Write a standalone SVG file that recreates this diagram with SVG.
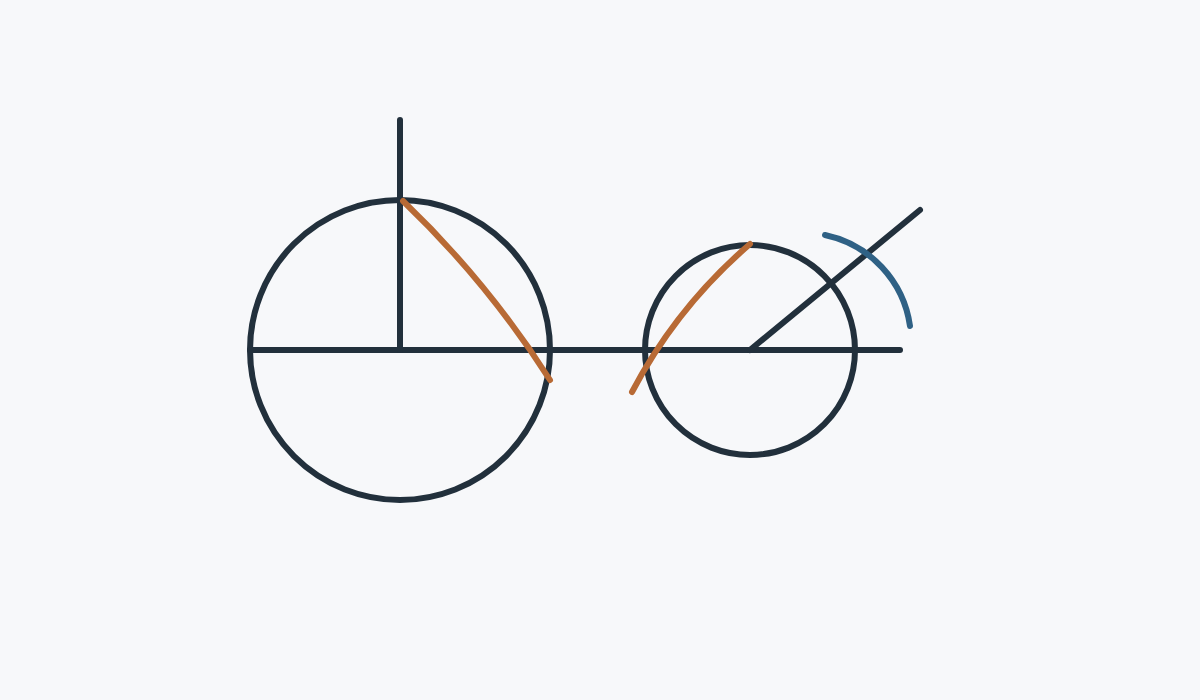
<svg xmlns="http://www.w3.org/2000/svg" width="1200" height="700" viewBox="0 0 1200 700">
<style>
.k{fill:none;stroke:#22303c;stroke-width:6;stroke-linecap:round}
.o{fill:none;stroke:#b86a35;stroke-width:6;stroke-linecap:round}
.b{fill:none;stroke:#2f6185;stroke-width:6;stroke-linecap:round}
</style>
<rect width="1200" height="700" fill="#f7f8fa"/>
<g id="construction">
<circle id="big-circle" class="k" cx="400" cy="350" r="150"/>
<circle id="small-circle" class="k" cx="750" cy="350" r="105"/>
<line class="k" x1="250" y1="350" x2="900" y2="350"/>
<line class="k" x1="400" y1="120" x2="400" y2="350"/>
<line class="k" x1="750" y1="350" x2="920" y2="210"/>
</g>
<g id="arcs">
<path class="o" d="M403,201 A970,970 0 0 1 550,380"/>
<path class="o" d="M750,244 A506,506 0 0 0 632,392"/>
<path class="b" d="M825,235 A108.6,108.6 0 0 1 910,326"/>
</g>
</svg>
